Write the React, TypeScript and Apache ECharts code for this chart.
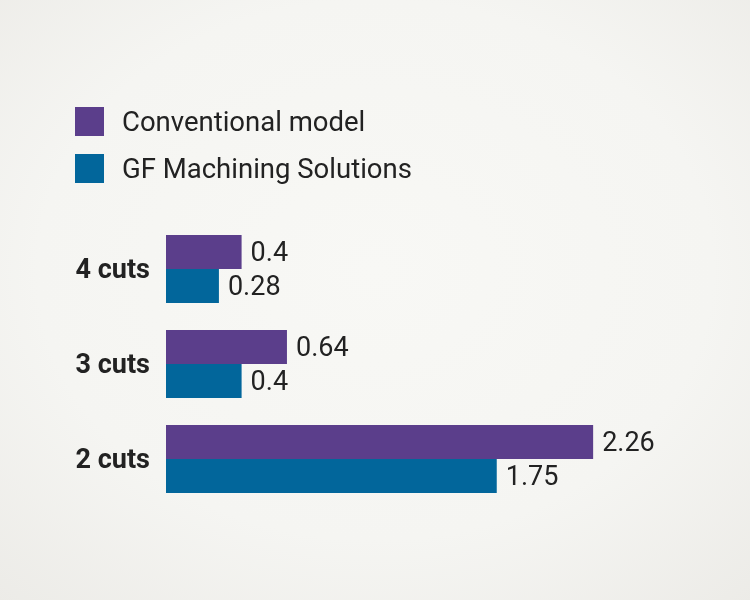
import React, { useEffect, useRef } from "react";
import * as echarts from "echarts";

const categories = ["4 cuts", "3 cuts", "2 cuts"];
const conventional = [0.4, 0.64, 2.26];
const gfSolutions = [0.28, 0.4, 1.75];
const seriesNames = ["Conventional model", "GF Machining Solutions"];

export default function App() {
  const ref = useRef<HTMLDivElement>(null);
  useEffect(() => {
    const chart = echarts.init(ref.current!, null, { renderer: "svg" });
    const font = "Roboto, 'DejaVu Sans', sans-serif";
    chart.setOption({
      animation: false,
      backgroundColor: {
        type: "radial",
        x: 0.5,
        y: 0.45,
        r: 0.75,
        colorStops: [
          { offset: 0, color: "#f8f8f5" },
          { offset: 0.6, color: "#f5f5f2" },
          { offset: 1, color: "#ecebe7" },
        ],
      },
      legend: {
        orient: "vertical",
        left: 75,
        top: 107,
        padding: 0,
        itemWidth: 29,
        itemHeight: 29,
        itemGap: 18,
        icon: "rect",
        textStyle: {
          fontFamily: font,
          fontSize: 27.5,
          color: "#222",
          padding: [0, 0, 0, 13],
        },
        data: seriesNames,
      },
      grid: { left: 166, top: 221.5, height: 285, width: 567 },
      xAxis: {
        type: "value",
        min: 0,
        max: 3,
        show: false,
      },
      yAxis: {
        type: "category",
        data: categories,
        inverse: true,
        axisLine: { show: false },
        axisTick: { show: false },
        splitLine: { show: false },
        axisLabel: {
          margin: 16,
          fontFamily: font,
          fontSize: 27,
          fontWeight: "bold",
          color: "#222",
        },
      },
      series: [
        {
          name: seriesNames[0],
          type: "bar",
          data: conventional,
          barWidth: 34,
          barGap: "0%",
          itemStyle: { color: "#5b3e8b" },
          label: {
            show: true,
            position: "right",
            distance: 9,
            fontFamily: font,
            fontSize: 27,
            color: "#222",
          },
        },
        {
          name: seriesNames[1],
          type: "bar",
          data: gfSolutions,
          barWidth: 34,
          barGap: "0%",
          itemStyle: { color: "#02669b" },
          label: {
            show: true,
            position: "right",
            distance: 9,
            fontFamily: font,
            fontSize: 27,
            color: "#222",
          },
        },
      ],
    });
    return () => chart.dispose();
  }, []);
  return (
    <div
      ref={ref}
      style={{ position: "fixed", left: 0, top: 0, width: 750, height: 600 }}
    />
  );
}
